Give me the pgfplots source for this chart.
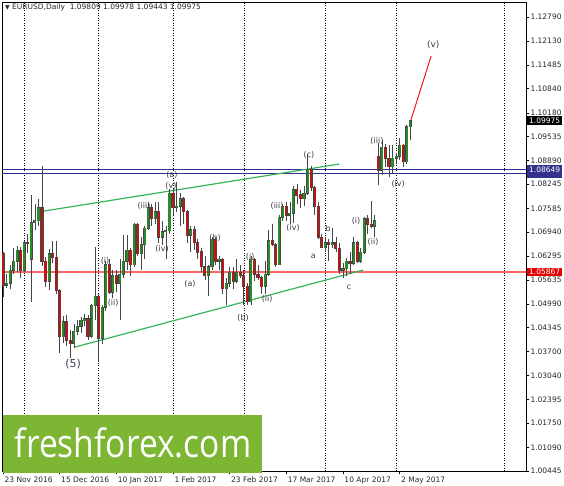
\documentclass[border=0pt]{standalone}
\usepackage{fontspec}
\setmainfont{DejaVu Sans}
\newfontfamily\wmfont{Open Sans}
\usepackage{graphicx}
\usepackage{pgfplots}
\usepackage{pgfplotstable}
\pgfplotsset{compat=1.18}

\definecolor{bull}{RGB}{40,140,40}
\definecolor{bear}{RGB}{180,25,25}
\definecolor{wick}{RGB}{70,70,70}
\definecolor{lvlblue}{RGB}{50,50,140}
\definecolor{chan}{RGB}{55,180,90}
\definecolor{wm}{RGB}{125,182,50}
\definecolor{lbl}{RGB}{60,60,75}

% EURUSD daily, 23 Nov 2016 .. 5 May 2017 (bar index, open, high, low, close)
\pgfplotstableread{
i o h l c
0 1.0636 1.0640 1.0518 1.0550
1 1.0550 1.0580 1.0541 1.0555
2 1.0555 1.0605 1.0540 1.0590
3 1.0590 1.0650 1.0580 1.0615
4 1.0615 1.0655 1.0585 1.0645
5 1.0645 1.0653 1.0570 1.0590
6 1.0590 1.0670 1.0587 1.0665
7 1.0665 1.0690 1.0637 1.0662
8 1.0620 1.0796 1.0505 1.0720
9 1.0720 1.0770 1.0700 1.0725
10 1.0725 1.0785 1.0710 1.0760
11 1.0760 1.0874 1.0602 1.0615
12 1.0615 1.0627 1.0544 1.0560
13 1.0560 1.0648 1.0537 1.0635
14 1.0635 1.0670 1.0610 1.0625
15 1.0625 1.0670 1.0525 1.0535
16 1.0535 1.0540 1.0365 1.0410
17 1.0410 1.0467 1.0392 1.0450
18 1.0450 1.0470 1.0385 1.0400
19 1.0400 1.0427 1.0352 1.0392
20 1.0392 1.0445 1.0380 1.0425
21 1.0425 1.0455 1.0415 1.0438
22 1.0438 1.0462 1.0420 1.0455
23 1.0455 1.0472 1.0440 1.0458
24 1.0458 1.0470 1.0400 1.0410
25 1.0410 1.0500 1.0405 1.0495
26 1.0495 1.0653 1.0455 1.0520
27 1.0520 1.0525 1.0340 1.0405
28 1.0405 1.0495 1.0390 1.0490
29 1.0490 1.0615 1.0480 1.0605
30 1.0605 1.0620 1.0525 1.0530
31 1.0530 1.0590 1.0515 1.0575
32 1.0575 1.0590 1.0530 1.0555
33 1.0555 1.0620 1.0455 1.0580
34 1.0580 1.0685 1.0570 1.0615
35 1.0615 1.0685 1.0590 1.0645
36 1.0645 1.0650 1.0575 1.0605
37 1.0605 1.0720 1.0600 1.0715
38 1.0715 1.0720 1.0630 1.0635
39 1.0635 1.0680 1.0590 1.0660
40 1.0660 1.0710 1.0620 1.0705
41 1.0705 1.0775 1.0700 1.0760
42 1.0760 1.0770 1.0710 1.0730
43 1.0730 1.0775 1.0715 1.0750
44 1.0750 1.0775 1.0665 1.0680
45 1.0680 1.0725 1.0660 1.0695
46 1.0695 1.0710 1.0620 1.0698
47 1.0698 1.0810 1.0690 1.0800
48 1.0800 1.0810 1.0740 1.0760
49 1.0760 1.0829 1.0750 1.0765
50 1.0765 1.0800 1.0710 1.0785
51 1.0785 1.0790 1.0715 1.0750
52 1.0750 1.0755 1.0665 1.0685
53 1.0685 1.0710 1.0640 1.0700
54 1.0700 1.0710 1.0645 1.0665
55 1.0665 1.0675 1.0620 1.0640
56 1.0640 1.0650 1.0585 1.0600
57 1.0600 1.0630 1.0565 1.0575
58 1.0575 1.0605 1.0520 1.0600
59 1.0600 1.0680 1.0590 1.0675
60 1.0675 1.0680 1.0605 1.0615
61 1.0615 1.0630 1.0590 1.0620
62 1.0620 1.0625 1.0525 1.0540
63 1.0540 1.0570 1.0495 1.0555
64 1.0555 1.0600 1.0545 1.0585
65 1.0585 1.0600 1.0540 1.0560
66 1.0560 1.0620 1.0555 1.0585
67 1.0585 1.0605 1.0570 1.0575
68 1.0575 1.0590 1.0495 1.0545
69 1.0545 1.0555 1.0495 1.0505
70 1.0505 1.0630 1.0495 1.0620
71 1.0620 1.0625 1.0560 1.0580
72 1.0580 1.0605 1.0565 1.0570
73 1.0570 1.0575 1.0525 1.0545
74 1.0545 1.0615 1.0525 1.0580
75 1.0580 1.0700 1.0575 1.0670
76 1.0670 1.0715 1.0655 1.0660
77 1.0660 1.0665 1.0600 1.0605
78 1.0605 1.0740 1.0605 1.0735
79 1.0735 1.0770 1.0725 1.0765
80 1.0765 1.0775 1.0725 1.0740
81 1.0740 1.0775 1.0715 1.0745
82 1.0745 1.0820 1.0720 1.0810
83 1.0810 1.0825 1.0770 1.0795
84 1.0795 1.0810 1.0760 1.0785
85 1.0785 1.0820 1.0765 1.0800
86 1.0800 1.0906 1.0795 1.0865
87 1.0865 1.0875 1.0805 1.0815
88 1.0815 1.0820 1.0740 1.0765
89 1.0765 1.0775 1.0675 1.0680
90 1.0680 1.0690 1.0650 1.0652
91 1.0652 1.0680 1.0640 1.0665
92 1.0665 1.0675 1.0615 1.0660
93 1.0660 1.0705 1.0650 1.0665
94 1.0665 1.0680 1.0640 1.0650
95 1.0650 1.0665 1.0580 1.0590
96 1.0590 1.0610 1.0570 1.0595
97 1.0595 1.0625 1.0575 1.0615
98 1.0615 1.0640 1.0580 1.0610
99 1.0610 1.0680 1.0605 1.0665
100 1.0665 1.0670 1.0610 1.0615
101 1.0615 1.0650 1.0610 1.0640
102 1.0640 1.0735 1.0635 1.0730
103 1.0730 1.0740 1.0690 1.0715
104 1.0715 1.0780 1.0705 1.0710
105 1.0710 1.0740 1.0680 1.0725
106 1.0900 1.0937 1.0821 1.0862
107 1.0862 1.0945 1.0850 1.0925
108 1.0925 1.0935 1.0870 1.0895
109 1.0895 1.0930 1.0845 1.0872
110 1.0872 1.0930 1.0855 1.0895
111 1.0895 1.0910 1.0880 1.0900
112 1.0900 1.0950 1.0890 1.0930
113 1.0930 1.0935 1.0870 1.0885
114 1.0885 1.0985 1.0880 1.0980
115 1.09809 1.09978 1.09443 1.09975
}\eurusd

\newcommand{\tk}{\fontsize{7.5}{9}\selectfont}

\begin{document}
\begin{tikzpicture}[x=1pt,y=1pt]
\path[use as bounding box] (0,0) rectangle (564,486);
\begin{axis}[
  at={(2pt,14.8pt)}, anchor=south west,
  scale only axis, width=524pt, height=469.2pt,
  xmin=-0.3, xmax=147.7, ymin=1.00440, ymax=1.13198,
  axis line style={black, line width=0.8pt},
  xtick pos=left, ytick pos=right, yticklabel pos=right,
  tick align=outside, major tick length=3pt,
  tick style={black, line width=0.6pt},
  ytick={1.00445,1.01090,1.01750,1.02395,1.03040,1.03700,1.04345,1.04990,1.05635,1.06295,
         1.06940,1.07585,1.08245,1.08890,1.09535,1.10180,1.10840,1.11485,1.12130,1.12790},
  yticklabels={1.00445,1.01090,1.01750,1.02395,1.03040,1.03700,1.04345,1.04990,1.05635,1.06295,
         1.06940,1.07585,1.08245,1.08890,1.09535,1.10180,1.10840,1.11485,1.12130,1.12790},
  xtick={0,16,32,48,64,80,96,112},
  xticklabels={23 Nov 2016,15 Dec 2016,10 Jan 2017,1 Feb 2017,23 Feb 2017,17 Mar 2017,10 Apr 2017,2 May 2017},
  extra x ticks={6,27,48,68,91,111,141.5},
  extra x tick labels={},
  extra x tick style={grid=major, major tick length=0pt,
    major grid style={black, dash pattern=on 1pt off 1.5pt, line width=0.6pt}},
  tick label style={font=\tk, text=black!85},
  xticklabel style={anchor=north west, xshift=-2pt, yshift=1pt},
  yticklabel style={anchor=west, xshift=-2pt},
  candle/.style={draw=none, mark=none, forget plot,
    error bars/y dir=both, error bars/y explicit, error bars/error mark=none},
]
% levels
\addplot[color=red!60, mark=none, line width=1.8pt] table[x=x, y=y] {
x y
-0.3 1.05867
147.7 1.05867
};
\addplot[color=lvlblue, mark=none, line width=0.8pt] coordinates {(-0.3,1.08649) (147.7,1.08649)};
\addplot[color=lvlblue, mark=none, line width=0.8pt] coordinates {(-0.3,1.08530) (147.7,1.08530)};
% channel
\addplot[color=chan, mark=none, line width=1.2pt] coordinates {(11.3,1.0751) (94.9,1.0879)};
\addplot[color=chan, mark=none, line width=1.2pt] coordinates {(20.1,1.0381) (101.7,1.0591)};
% projected wave (v)
\addplot[color=red, mark=none, line width=0.9pt] coordinates {(115.2,1.0999) (120.9,1.1173)};

% candles: wicks, outline, bull bodies, bear bodies
\addplot[candle, error bars/error bar style={draw=wick, line width=0.7pt}]
  table[x=i, y expr={(\thisrow{h}+\thisrow{l})/2}, y error expr={(\thisrow{h}-\thisrow{l})/2}] {\eurusd};
\addplot[candle, error bars/error bar style={draw=wick, line width=3.1pt}]
  table[x=i, y expr={(\thisrow{o}+\thisrow{c})/2}, y error expr={abs(\thisrow{c}-\thisrow{o})/2+0.00014}] {\eurusd};
\addplot[candle, restrict expr to domain={\thisrow{c}-\thisrow{o}}{0:1},
  error bars/error bar style={draw=bull, line width=2.1pt}]
  table[x=i, y expr={(\thisrow{o}+\thisrow{c})/2}, y error expr={abs(\thisrow{c}-\thisrow{o})/2}] {\eurusd};
\addplot[candle, restrict expr to domain={\thisrow{o}-\thisrow{c}}{0.000001:1},
  error bars/error bar style={draw=bear, line width=2.1pt}]
  table[x=i, y expr={(\thisrow{o}+\thisrow{c})/2}, y error expr={abs(\thisrow{c}-\thisrow{o})/2}] {\eurusd};

% wave labels
\begin{scope}[every node/.style={text=lbl, font=\fontsize{8}{9}\selectfont, inner sep=0pt}]
\node at (axis cs:19.8,1.03354) {\fontsize{11}{12}\selectfont (5)};
\node at (axis cs:28.8,1.06155) {(i)};
\node at (axis cs:31.1,1.05013) {(ii)};
\node at (axis cs:39.8,1.07651) {(iii)};
\node at (axis cs:44.9,1.06481) {(iv)};
\node at (axis cs:47.4,1.08195) {(v)};
\node at (axis cs:47.7,1.08494) {(a)};
\node at (axis cs:52.8,1.05530) {(a)};
\node at (axis cs:59.9,1.06781) {(b)};
\node at (axis cs:69.8,1.06264) {(i)};
\node at (axis cs:74.6,1.05122) {(ii)};
\node at (axis cs:67.8,1.04605) {(b)};
\node at (axis cs:77.4,1.07651) {(iii)};
\node at (axis cs:81.9,1.07053) {(iv)};
\node at (axis cs:86.4,1.09038) {(c)};
\node at (axis cs:91.8,1.07026) {b};
\node at (axis cs:87.6,1.06292) {a};
\node at (axis cs:97.7,1.05448) {c};
\node at (axis cs:99.7,1.07243) {(i)};
\node at (axis cs:104.5,1.06672) {(ii)};
\node at (axis cs:105.6,1.09418) {(iii)};
\node at (axis cs:111.6,1.08249) {(iv)};
\node at (axis cs:121.5,1.12029) {\fontsize{9}{10}\selectfont (v)};
\end{scope}

\coordinate (pc) at (axis cs:147.7,1.09975);
\coordinate (pb) at (axis cs:147.7,1.08649);
\coordinate (pb2) at (axis cs:147.7,1.08530);
\coordinate (pr) at (axis cs:147.7,1.05867);
\end{axis}

% price boxes on the scale
\begin{scope}[every node/.style={anchor=west, text=white, font=\tk, inner xsep=2pt, inner ysep=1.2pt, xshift=1pt}]
\node[fill=black] at (pc) {1.09975};
\node[fill=lvlblue] at (pb2) {\phantom{1.08530}};
\node[fill=lvlblue] at (pb) {1.08649};
\node[fill=red!90!black] at (pr) {1.05867};
\end{scope}

% header
\node[anchor=north west, font=\tk, text=black!85, inner sep=0pt] at (5,482)
  {\fontsize{6}{7}\selectfont ▼\tk\ EURUSD,Daily\ \ 1.09809 1.09978 1.09443 1.09975};

% watermark
\fill[wm] (3,13) rectangle (262,71);
\node[text=white, anchor=base, inner sep=0pt] at (133,28)
  {\scalebox{0.86}[1]{\wmfont\fontsize{39}{40}\selectfont freshforex.com}};
\end{tikzpicture}
\end{document}
